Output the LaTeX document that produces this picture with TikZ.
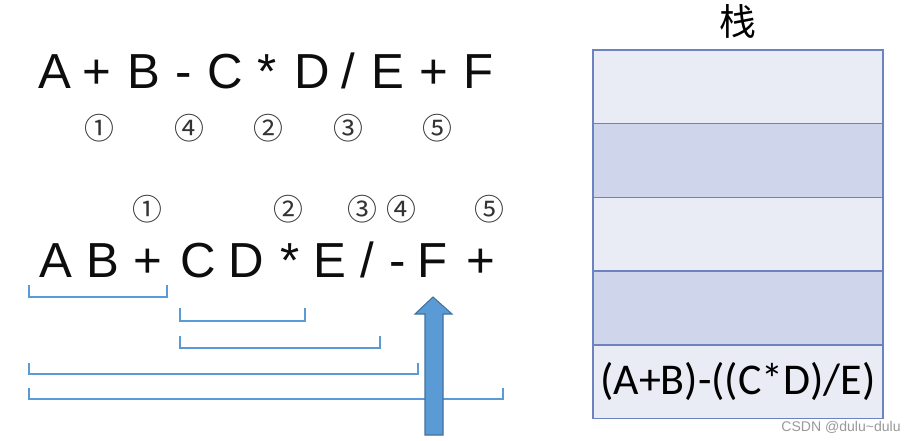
\documentclass[tikz,border=0pt]{standalone}
\usepackage{fontspec}
\setmainfont{Liberation Sans}
\newfontfamily\cjkfont{Noto Sans CJK SC}
\newfontfamily\calfont{Carlito}
\usetikzlibrary{positioning}
\definecolor{bracketblue}{HTML}{5B9BD5}
\definecolor{arrowedge}{HTML}{41719C}
\definecolor{stackline}{HTML}{6C83C0}
\definecolor{celllight}{HTML}{E9EBF5}
\definecolor{celldark}{HTML}{CFD5EA}

\begin{document}
\begin{tikzpicture}[x=0.02cm, y=-0.02cm,
    tok/.style={anchor=base, inner sep=0pt, text=black!95,
                font=\fontsize{28}{28}\selectfont},
    ord/.style={inner sep=0pt, text=black!80,
                font=\cjkfont\fontsize{17}{17}\selectfont},
    brk/.style={draw=bracketblue, line width=1.3pt},
    cell/.style={rectangle, draw=stackline, line width=0.8pt, inner sep=0pt,
                 minimum width=5.8cm, minimum height=1.474cm},
    bigarr/.style={fill=bracketblue, draw=arrowedge, line width=0.6pt}
  ]
  \useasboundingbox (0,0) rectangle (916,440);

  % infix expression and its order
  \node[tok] (in1)  at (55,88)  {A};
  \node[tok] (in2)  at (97,88)  {+};
  \node[tok] (in3)  at (144,88) {B};
  \node[tok] (in4)  at (184,88) {-};
  \node[tok] (in5)  at (225,88) {C};
  \node[tok] (in6)  at (267,88) {*};
  \node[tok] (in7)  at (312,88) {D};
  \node[tok] (in8)  at (348,88) {/};
  \node[tok] (in9)  at (388,88) {E};
  \node[tok] (in10) at (434,88) {+};
  \node[tok] (in11) at (479,88) {F};

  \node[ord] (ordin1) at (99,128)  {①};
  \node[ord] (ordin4) at (189,128) {④};
  \node[ord] (ordin2) at (268,128) {②};
  \node[ord] (ordin3) at (348,128) {③};
  \node[ord] (ordin5) at (437,128) {⑤};

  % postfix expression and its order
  \node[ord] (ordpost1) at (147,209) {①};
  \node[ord] (ordpost2) at (288,209) {②};
  \node[ord] (ordpost3) at (362,209) {③};
  \node[ord] (ordpost4) at (401,209) {④};
  \node[ord] (ordpost5) at (489,209) {⑤};

  \node[tok] (post1)  at (56,277)  {A};
  \node[tok] (post2)  at (103,277) {B};
  \node[tok] (post3)  at (148,277) {+};
  \node[tok] (post4)  at (198,277) {C};
  \node[tok] (post5)  at (246,277) {D};
  \node[tok] (post6)  at (290,277) {*};
  \node[tok] (post7)  at (330,277) {E};
  \node[tok] (post8)  at (367,277) {/};
  \node[tok] (post9)  at (398,277) {-};
  \node[tok] (post10) at (433,277) {F};
  \node[tok] (post11) at (481,277) {+};

  % brackets under the operands
  \draw[brk] (29,285) -- (29,297) -- (167,297) -- (167,285);
  \draw[brk] (180,308) -- (180,321) -- (305,321) -- (305,308);
  \draw[brk] (180,336) -- (180,348) -- (380,348) -- (380,336);
  \draw[brk] (29,363) -- (29,374) -- (418,374) -- (418,363);
  \draw[brk] (29,388) -- (29,399) -- (503,399) -- (503,388);

  % scan pointer
  \draw[bigarr] (425,435) -- (425,314) -- (415,314) -- (433,297)
                -- (452,314) -- (443,314) -- (443,435) -- cycle;

  % stack
  \node[anchor=base, inner sep=0pt, font=\cjkfont\fontsize{21}{21}\selectfont]
       (title) at (738,35.4) {栈};
  \node[cell, fill=celllight] (s1) at (738,86.85)  {};
  \node[cell, fill=celldark]  (s2) at (738,160.55) {};
  \node[cell, fill=celllight] (s3) at (738,234.25) {};
  \node[cell, fill=celldark]  (s4) at (738,307.95) {};
  \node[cell, fill=celllight, font=\calfont\fontsize{25}{25}\selectfont]
       (s5) at (738,381.65) {(A+B)-((C*D)/E)};

  \node[anchor=base west, inner sep=0pt, text=black!40,
        font=\fontsize{8}{8}\selectfont] (mark) at (781,431) {CSDN @dulu\textasciitilde dulu};
\end{tikzpicture}
\end{document}
